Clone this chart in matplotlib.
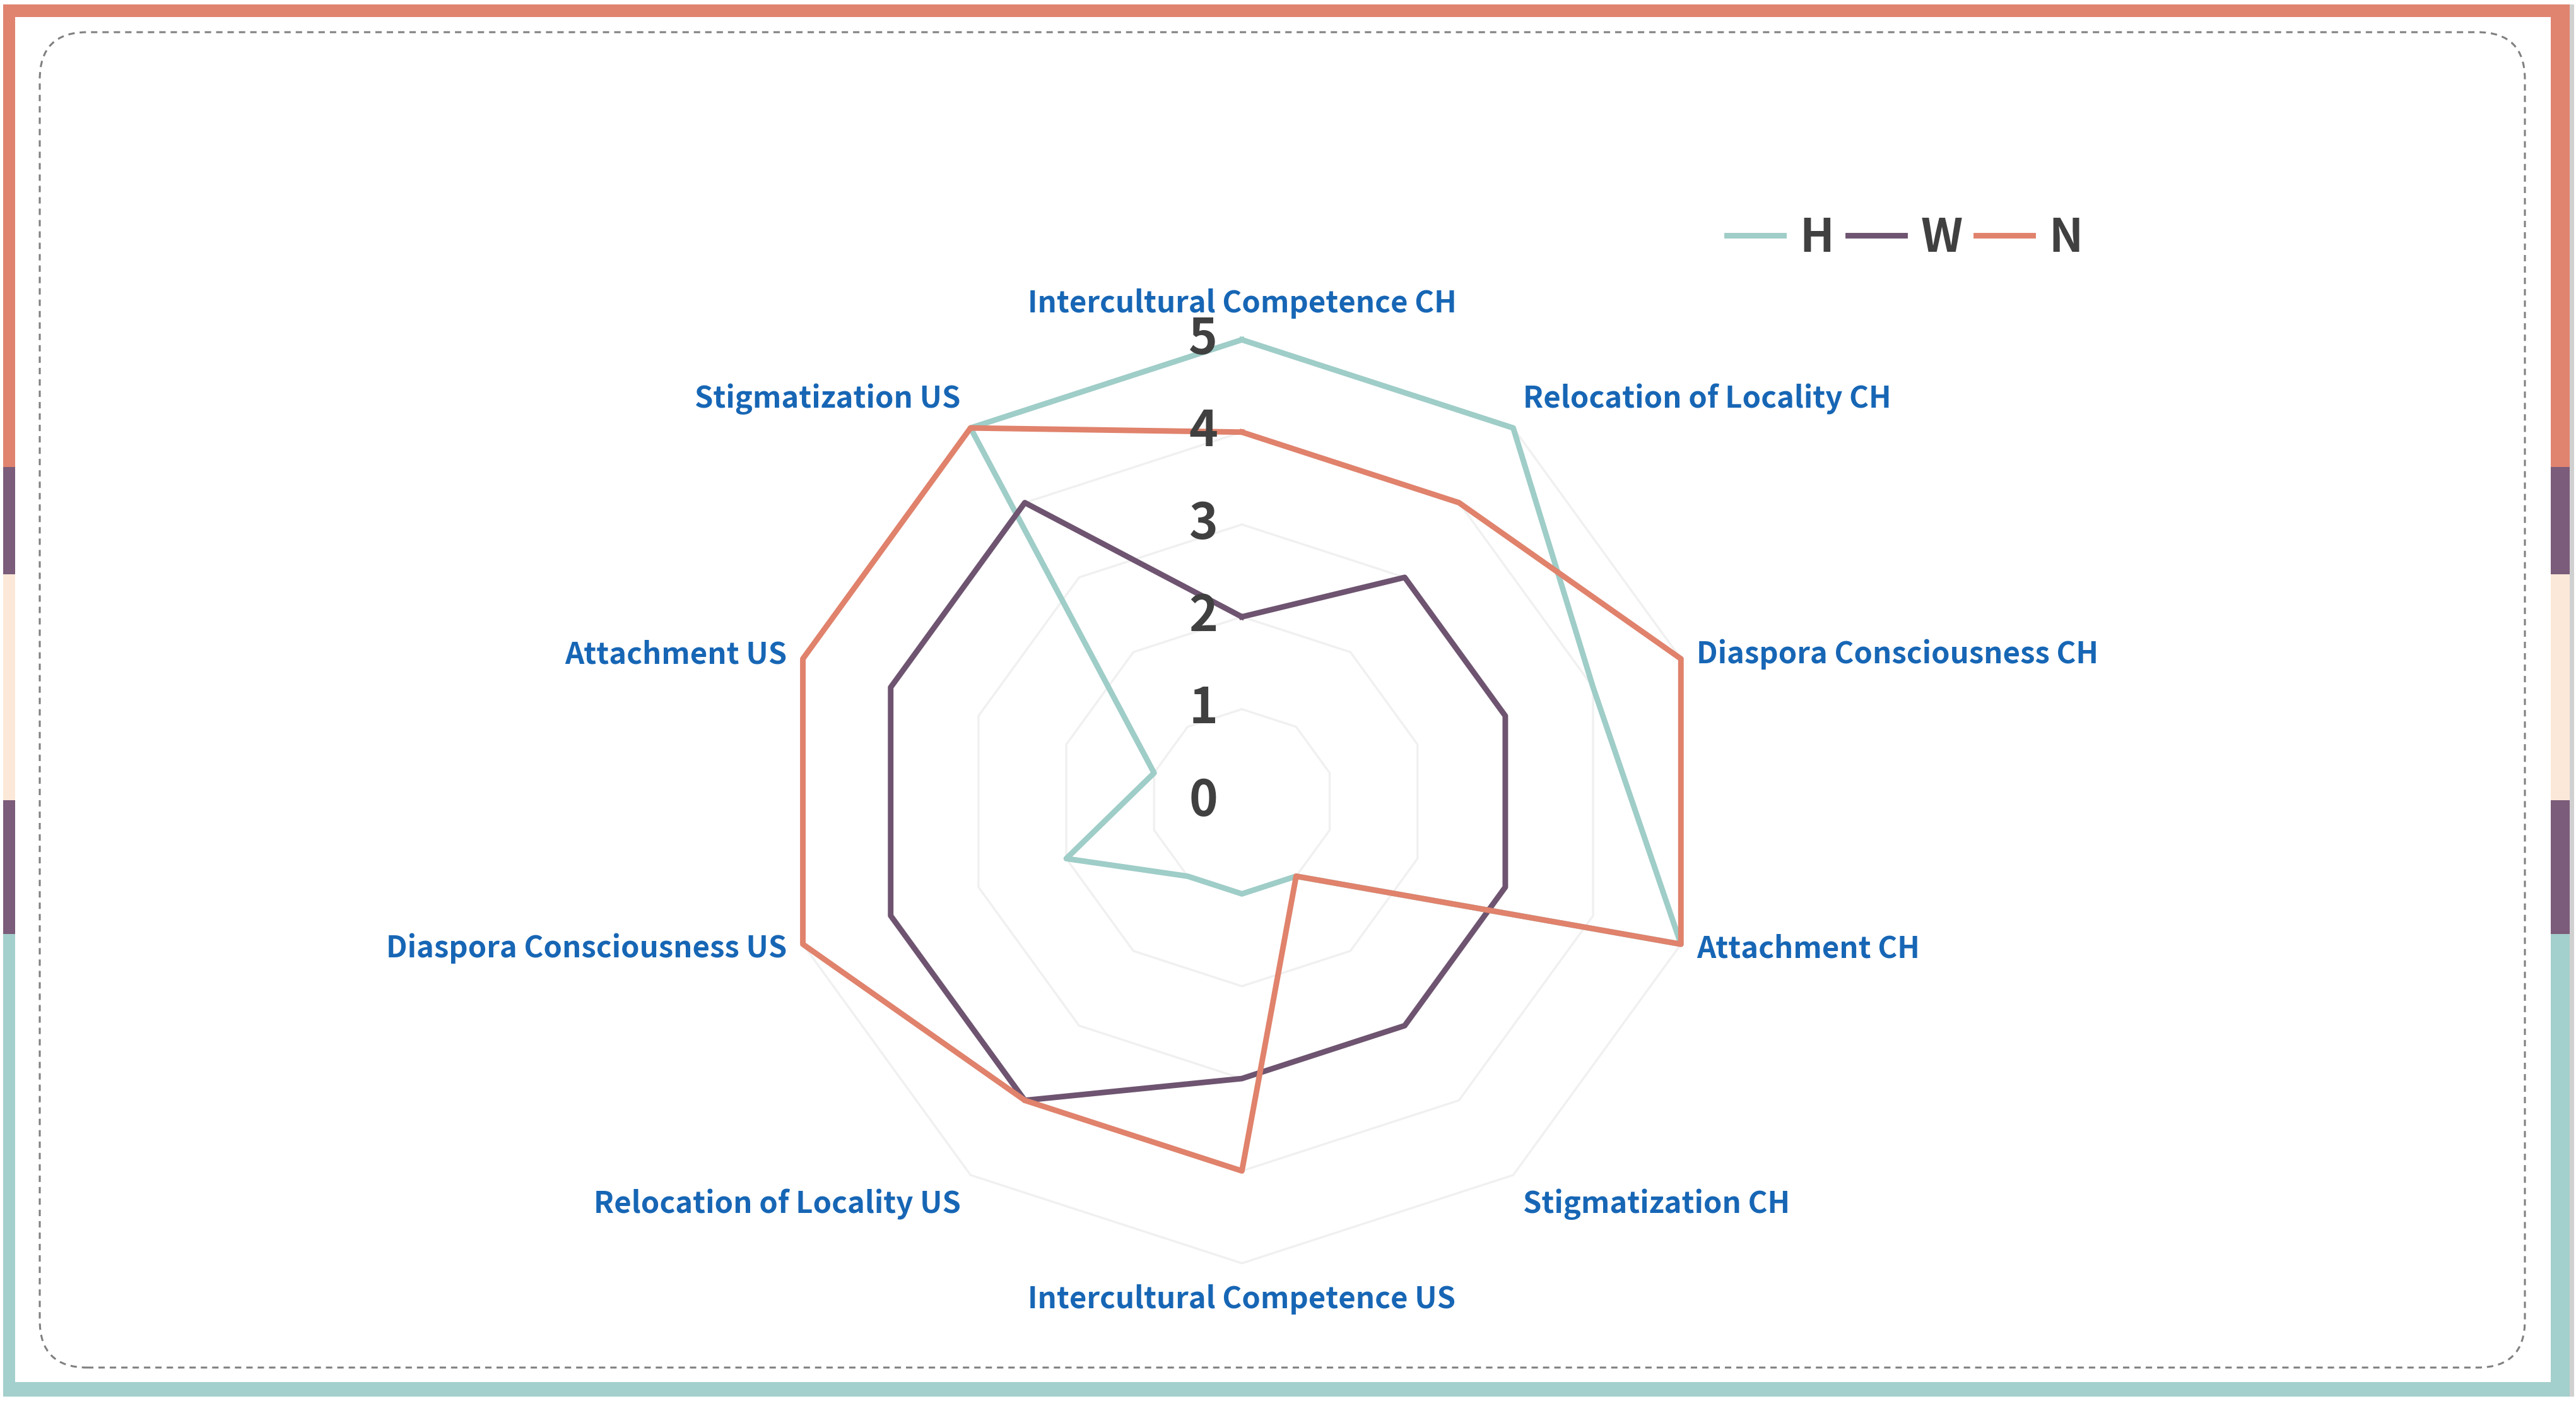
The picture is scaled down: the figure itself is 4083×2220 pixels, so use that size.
import numpy as np
import matplotlib
matplotlib.use('Agg')
import matplotlib.pyplot as plt
from matplotlib.patches import Rectangle, FancyBboxPatch

categories = ['Intercultural Competence CH', 'Relocation of Locality CH',
              'Diaspora Consciousness CH', 'Attachment CH', 'Stigmatization CH',
              'Intercultural Competence US', 'Relocation of Locality US',
              'Diaspora Consciousness US', 'Attachment US', 'Stigmatization US']
h_values = [5, 5, 4, 5, 1, 1, 1, 2, 1, 5]
w_values = [2, 3, 3, 3, 3, 3, 4, 4, 4, 4]
n_values = [4, 4, 5, 5, 1, 4, 4, 5, 5, 5]
series_names = ['H', 'W', 'N']
tick_values = [0, 1, 2, 3, 4, 5]

line_colors = ['#9FCDC8', '#6E5470', '#E0826C']
label_blue = '#1766B5'
text_dark = '#404040'

plt.rcParams['font.family'] = ['Noto Sans CJK SC', 'DejaVu Sans']

W_PX, H_PX, DPI = 4083, 2220, 200
fig = plt.figure(figsize=(W_PX / DPI, H_PX / DPI), dpi=DPI)
fig.patch.set_facecolor('white')

# decorative frame, drawn in pixel space
bg = fig.add_axes([0, 0, 1, 1])
bg.set_xlim(0, W_PX)
bg.set_ylim(0, H_PX)
bg.axis('off')

orange, purple, beige, teal = '#E0836F', '#7B5C7A', '#FCE8D8', '#A3CFCC'
bg.add_patch(Rectangle((5, 2193), 4068, 20, color=orange, lw=0))
bg.add_patch(Rectangle((5, 7), 4068, 23, color=teal, lw=0))
bg.add_patch(Rectangle((4073, 7), 7, 2206, color='#D0D0D0', lw=0))
side_segments = [(7, 740, teal), (740, 952, purple), (952, 1310, beige),
                 (1310, 1480, purple), (1480, 2213, orange)]
for x0, w in [(5, 19), (4043, 30)]:
    for y0, y1, c in side_segments:
        bg.add_patch(Rectangle((x0, y0), w, y1 - y0, color=c, lw=0))

bg.add_patch(FancyBboxPatch((63, 53), 4002 - 63, 2169 - 53,
                            boxstyle='round,pad=0,rounding_size=75',
                            fill=False, edgecolor='#808080', lw=1.1,
                            linestyle=(0, (3.3, 2.6))))

# radar chart
cx, cy, rad = 0.4821, 0.4279, 0.1792
ax = fig.add_axes([cx - rad, cy - rad * W_PX / H_PX, 2 * rad, 2 * rad * W_PX / H_PX],
                  projection='polar')
ax.set_theta_zero_location('N')
ax.set_theta_direction(-1)
ax.set_ylim(0, 5)
ax.set_axis_off()

angles = np.linspace(0, 2 * np.pi, len(categories), endpoint=False)
closed = np.append(angles, angles[0])

for r in tick_values[1:]:
    ax.plot(closed, [r] * len(closed), color='#F0F0F0', lw=1.2, clip_on=False, zorder=1)

handles = []
for name, vals, col in zip(series_names, [h_values, w_values, n_values], line_colors):
    ln, = ax.plot(closed, vals + vals[:1], color=col, lw=3.2, clip_on=False,
                  solid_joinstyle='round', label=name, zorder=3)
    handles.append(ln)

for ang, cat in zip(angles, categories):
    s, c = np.sin(ang), np.cos(ang)
    dx = 9.5 * s
    dy = 20.5 * c if abs(c) > 0.5 else 8 * c
    ha = 'center' if abs(s) < 0.1 else ('left' if s > 0 else 'right')
    ax.annotate(cat, xy=(ang, 5), xytext=(dx, dy), textcoords='offset points',
                ha=ha, va='center', color=label_blue, fontsize=17,
                fontweight='bold', annotation_clip=False)

for r in tick_values:
    ax.annotate(str(r), xy=(0, r), xytext=(-22, 0), textcoords='offset points',
                ha='center', va='center', fontsize=28, fontweight='bold',
                color=text_dark, annotation_clip=False, zorder=4)

fig.legend(handles, series_names, loc='center', bbox_to_anchor=(0.7395, 0.830),
           ncol=3, frameon=False, prop={'weight': 'bold', 'size': 26},
           labelcolor=text_dark, handlelength=1.25, handletextpad=0.35,
           columnspacing=0.3)

fig.savefig('out.png', dpi=DPI)
